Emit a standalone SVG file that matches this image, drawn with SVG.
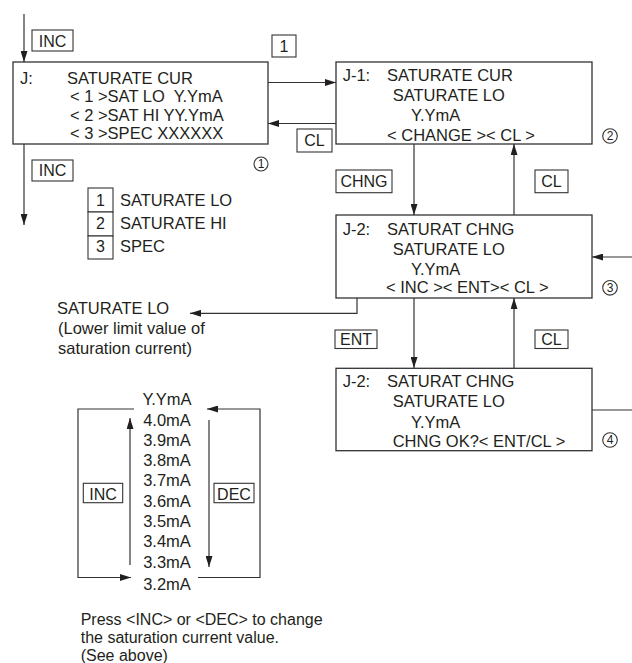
<svg xmlns="http://www.w3.org/2000/svg" width="632" height="663" viewBox="0 0 632 663">
<defs>
<style>
text{font-family:"Liberation Sans",Arial,sans-serif;fill:#231f20;}
.t{font-size:16.5px;}
.k{font-size:16px;text-anchor:middle;}
.n{font-size:12px;text-anchor:middle;}
.note{font-size:16px;}
.pre{white-space:pre;}
.box{fill:#fff;stroke:#333;stroke-width:1.3;}
.kb{fill:#fff;stroke:#333;stroke-width:1.1;}
.c{fill:none;stroke:#333;stroke-width:1.1;}
.ln{fill:none;stroke:#333;stroke-width:1.2;}
.arr{marker-end:url(#ah);}
</style>
<marker id="ah" markerUnits="userSpaceOnUse" markerWidth="11" markerHeight="7" refX="11" refY="3.5" orient="auto">
<path d="M0,0 L11,3.5 L0,7 z" fill="#231f20"/>
</marker>
</defs>

<g id="connectors">
<path class="ln arr" d="M24,14 V62"/>
<path class="ln arr" d="M24,144 V225"/>
<path class="ln arr" d="M268,82.5 H336"/>
<path class="ln arr" d="M336,123.5 H268"/>
<path class="ln arr" d="M414,144 V215"/>
<path class="ln arr" d="M514,215 V144"/>
<path class="ln arr" d="M632,257 H592"/>
<path class="ln arr" d="M357,298 V313.3 H190"/>
<path class="ln arr" d="M414,298 V368"/>
<path class="ln arr" d="M514,368 V298"/>
<path class="ln" d="M592,410 H632"/>
<path class="ln arr" d="M134,409 H78 V577.5 H131"/>
<path class="ln arr" d="M130,565 V418"/>
<path class="ln arr" d="M198,577.5 H260 V409 H207"/>
<path class="ln arr" d="M209,420 V567"/>
</g>

<g id="node-J">
<rect class="box" x="13" y="62" width="255" height="82"/>
<text class="t" x="20" y="83.5">J:</text>
<text class="t" x="67" y="83.5">SATURATE CUR</text>
<text class="t pre" x="70" y="102">&lt; 1 &gt;SAT LO  Y.YmA</text>
<text class="t" x="70" y="120.5">&lt; 2 &gt;SAT HI YY.YmA</text>
<text class="t" x="70" y="139">&lt; 3 &gt;SPEC XXXXXX</text>
<circle class="c" cx="261" cy="164" r="7"/>
<text class="n" x="261" y="168.3">1</text>
</g>

<g id="node-J1">
<rect class="box" x="336" y="62" width="256" height="82"/>
<text class="t" x="342.7" y="80.5">J-1:</text>
<text class="t" x="387" y="80.5">SATURATE CUR</text>
<text class="t" x="392.7" y="101">SATURATE LO</text>
<text class="t" x="411" y="120.7">Y.YmA</text>
<text class="t" x="387" y="140.5">&lt; CHANGE &gt;&lt; CL &gt;</text>
<circle class="c" cx="610" cy="136" r="7.3"/>
<text class="n" x="610" y="140.3">2</text>
</g>

<g id="node-J2a">
<rect class="box" x="336" y="215" width="256" height="83"/>
<text class="t" x="342.7" y="234.5">J-2:</text>
<text class="t" x="387" y="234.5">SATURAT CHNG</text>
<text class="t" x="392.7" y="254.5">SATURATE LO</text>
<text class="t" x="411" y="274.5">Y.YmA</text>
<text class="t" x="386" y="293.3">&lt; INC &gt;&lt; ENT&gt;&lt; CL &gt;</text>
<circle class="c" cx="610" cy="287.8" r="7.3"/>
<text class="n" x="610" y="292.1">3</text>
</g>

<g id="node-J2b">
<rect class="box" x="336" y="368.3" width="256" height="82.4"/>
<text class="t" x="342.7" y="387.3">J-2:</text>
<text class="t" x="387" y="387.3">SATURAT CHNG</text>
<text class="t" x="392.7" y="407.3">SATURATE LO</text>
<text class="t" x="411" y="427.8">Y.YmA</text>
<text class="t" x="392.7" y="446.5">CHNG OK?&lt; ENT/CL &gt;</text>
<circle class="c" cx="610" cy="440" r="7.3"/>
<text class="n" x="610" y="444.3">4</text>
</g>

<g id="keys">
<rect class="kb" x="32" y="30" width="41" height="21"/>
<text class="k" x="52.5" y="46.5">INC</text>
<rect class="kb" x="272" y="35" width="24" height="22"/>
<text class="k" x="284" y="51.8">1</text>
<rect class="kb" x="297" y="129" width="35" height="23"/>
<text class="k" x="314.5" y="145.5">CL</text>
<rect class="kb" x="32" y="160" width="41" height="21"/>
<text class="k" x="52.5" y="176.3">INC</text>
<rect class="kb" x="336" y="170" width="56" height="22.7"/>
<text class="k" x="364" y="187">CHNG</text>
<rect class="kb" x="535" y="170" width="33" height="22.7"/>
<text class="k" x="551.5" y="187">CL</text>
<rect class="kb" x="335" y="330" width="42" height="18.5"/>
<text class="k" x="356" y="345">ENT</text>
<rect class="kb" x="535" y="330" width="33" height="18.5"/>
<text class="k" x="551.5" y="345">CL</text>
<rect class="kb" x="83.3" y="483.3" width="39.4" height="19.4"/>
<text class="k" x="103" y="499.5">INC</text>
<rect class="kb" x="214" y="483.3" width="40" height="19.4"/>
<text class="k" x="234" y="499.5">DEC</text>
</g>

<g id="legend">
<rect class="kb" x="88" y="188" width="25" height="24"/>
<rect class="kb" x="88" y="212" width="25" height="24"/>
<rect class="kb" x="88" y="236" width="25" height="23"/>
<text class="k" x="100.5" y="205.5">1</text>
<text class="k" x="100.5" y="228.5">2</text>
<text class="k" x="100.5" y="251.5">3</text>
<text class="t" x="120" y="205.5">SATURATE LO</text>
<text class="t" x="120" y="228.5">SATURATE HI</text>
<text class="t" x="120" y="251.5">SPEC</text>
</g>

<g id="satlo-note">
<text class="t" x="57" y="313.5">SATURATE LO</text>
<text class="t" x="58" y="333.5">(Lower limit value of</text>
<text class="t" x="58" y="353.5">saturation current)</text>
</g>

<g id="value-list">
<text class="t" x="167" y="405" text-anchor="middle">Y.YmA</text>
<text class="t" x="167" y="425.5" text-anchor="middle">4.0mA</text>
<text class="t" x="167" y="445.8" text-anchor="middle">3.9mA</text>
<text class="t" x="167" y="466" text-anchor="middle">3.8mA</text>
<text class="t" x="167" y="486.2" text-anchor="middle">3.7mA</text>
<text class="t" x="167" y="506.5" text-anchor="middle">3.6mA</text>
<text class="t" x="167" y="526.8" text-anchor="middle">3.5mA</text>
<text class="t" x="167" y="547" text-anchor="middle">3.4mA</text>
<text class="t" x="167" y="567.5" text-anchor="middle">3.3mA</text>
<text class="t" x="167" y="589.5" text-anchor="middle">3.2mA</text>
</g>

<g id="press-note">
<text class="note" x="80.7" y="625">Press &lt;INC&gt; or &lt;DEC&gt; to change</text>
<text class="note" x="80.7" y="643">the saturation current value.</text>
<text class="note" x="80.7" y="661">(See above)</text>
</g>
</svg>
